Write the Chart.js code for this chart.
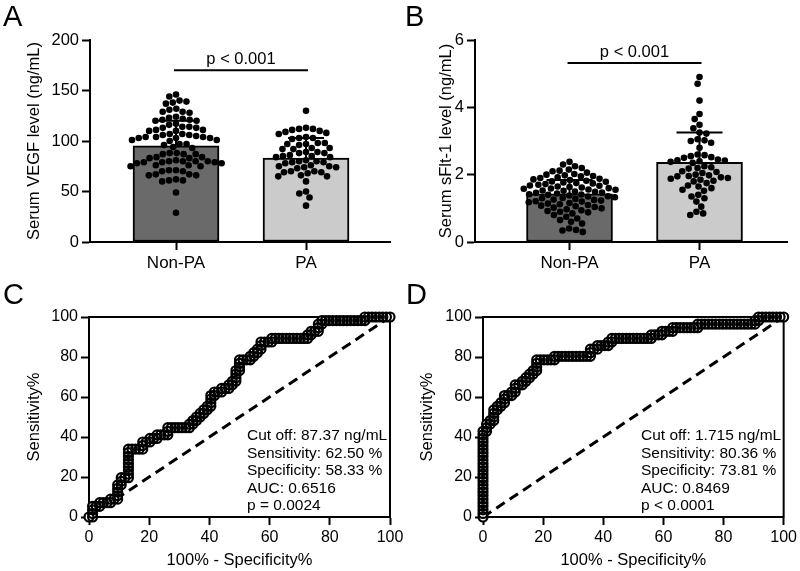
<!DOCTYPE html>
<html>
<head>
<meta charset="utf-8">
<script src="https://cdn.jsdelivr.net/npm/chart.js@4.4.1/dist/chart.umd.min.js"></script>
<style>
  body { margin: 0; background: #fff; width: 800px; height: 571px; position: relative; overflow: hidden;
         font-family: "Liberation Sans", Arial, Helvetica, sans-serif; }
  canvas { position: absolute; }
  .panel { position: absolute; font-size: 29px; line-height: 29px; color: #000; }
</style>
</head>
<body>
<canvas id="chartA" width="400" height="285" style="left:0;top:0"></canvas>
<canvas id="chartB" width="400" height="285" style="left:400px;top:0"></canvas>
<canvas id="chartC" width="420" height="286" style="left:0;top:285px"></canvas>
<canvas id="chartD" width="400" height="286" style="left:400px;top:285px"></canvas>
<div class="panel" style="left:3px;top:2px">A</div>
<div class="panel" style="left:405px;top:2px">B</div>
<div class="panel" style="left:3px;top:280px">C</div>
<div class="panel" style="left:406px;top:280px">D</div>

<script>
// ===== DATA =====
const groups = ["Non-PA", "PA"];

// serum VEGF (ng/mL), one value per subject
const vegfNonPA = [146,144,140,139,138,137,132,131,129,129,128,124,123,122,121,121,120,120,117,116,
  114,114,113,113,111,111,110,110,107,107,106,106,105,104,104,104,103,103,103,101,101,100,97,97,96,
  94,93,88,88,87,87,87,84,84,83,83,81,80,80,80,80,79,79,79,78,78,76,76,75,75,71,71,70,70,67,67,66,66,
  62,61,61,60,49,29];
const vegfPA = [130,113,112,112,111,110,109,108,107,104,103,103,102,98,98,97,97,96,93,93,92,92,89,89,
  88,88,86,85,85,84,84,81,80,80,79,79,78,76,75,75,74,74,73,70,70,69,69,68,66,65,65,60,50,48,44,36];
const vegfMean = [95.3, 83.0];
const vegfSD = [24.7, 20.0];

// serum sFlt-1 (ng/mL)
const sfltNonPA = [2.38,2.30,2.25,2.20,2.15,2.12,2.10,2.06,2.02,2.00,1.98,1.96,1.95,1.92,1.90,1.88,1.86,
  1.84,1.82,1.80,1.79,1.77,1.75,1.74,1.72,1.70,1.68,1.67,1.65,1.63,1.62,1.60,1.59,1.58,1.56,1.55,1.53,
  1.52,1.50,1.49,1.47,1.46,1.44,1.42,1.41,1.40,1.38,1.36,1.35,1.33,1.31,1.30,1.28,1.26,1.25,1.23,1.21,
  1.20,1.18,1.16,1.14,1.12,1.10,1.08,1.06,1.04,1.02,1.00,0.97,0.94,0.92,0.90,0.88,0.85,0.80,0.75,0.70,
  0.65,0.60,0.55,0.40,0.36,0.34,0.30];
const sfltPA = [4.90,4.70,4.20,3.80,3.65,3.48,3.38,3.25,3.22,3.05,3.02,3.00,2.95,2.80,2.60,2.58,2.55,
  2.52,2.50,2.45,2.43,2.42,2.40,2.38,2.35,2.25,2.22,2.20,2.18,2.10,2.08,2.05,2.00,1.98,1.96,1.95,1.92,
  1.90,1.88,1.85,1.82,1.80,1.75,1.68,1.65,1.60,1.55,1.52,1.40,1.35,1.30,1.20,1.05,0.90,0.85,0.80];
const sfltMean = [1.43, 2.37];
const sfltSD = [0.41, 0.88];

const sigText = "p < 0.001";
const sigLevelA = 170;
const sigLevelB = 5.32;

// ROC: one step per threshold, R = one more false positive, U = one more true positive
const nNonPA = 84, nPA = 56;
const rocStepsC = "R UUU RR U RRR U RR UUUU R U U RR UUUUUUUU RRRR UU RR U RR U RRR UU RRRRRR " +
  "URURURUR URUR UUU R U RR U RR U R U R UUU R UUU RRR URURUR UU RRR U RRRRRRRRRR UR U RR UU R U " +
  "RRRRRRRRRRRR U RRRRRRR";
const rocStepsD = "UUUUUUUUUUUUUUUUUUUUUUUU R UU R U R UUU R U R U R UU RR U R UU RR U R U R U R U R " +
  "UUU RRRRR U RR RRRRRRRR UU RR U RRR U R U RRRRRRRRRRR U RRR U RRR U RRRRRRR U RRRRRRRRRRRRRRRR " +
  "U R U RRRRRRR";
const diagonal = [{x: 0, y: 0}, {x: 100, y: 100}];
const rocTextC = ["Cut off: 87.37 ng/mL", "Sensitivity: 62.50 %", "Specificity: 58.33 %", "AUC: 0.6516", "p = 0.0024"];
const rocTextD = ["Cut off: 1.715 ng/mL", "Sensitivity: 80.36 %", "Specificity: 73.81 %", "AUC: 0.8469", "p < 0.0001"];

// ===== COMMON =====
Chart.defaults.font.family = '"Liberation Sans", Arial, Helvetica, sans-serif';
Chart.defaults.color = "#000";

function axisLines(tickLen) {
  return {
    grid: { drawOnChartArea: false, drawTicks: true, tickLength: tickLen, tickWidth: 2, tickColor: "#000", offset: false },
    border: { display: true, color: "#000", width: 2 }
  };
}

// simple beeswarm in pixel space, then back to data units
function swarm(chart, dsIndex, center, diam) {
  const xs = chart.scales.x, ys = chart.scales.y;
  const ds = chart.data.datasets[dsIndex];
  const cx = xs.getPixelForValue(center);
  const pts = ds.data.map(p => ({ v: p.y, py: ys.getPixelForValue(p.y) }));
  pts.sort((a, b) => a.py - b.py);
  const placed = [];
  pts.forEach(p => {
    const blocked = [];
    placed.forEach(q => {
      const dy = Math.abs(q.py - p.py);
      if (dy < diam) {
        const w = Math.sqrt(diam * diam - dy * dy);
        blocked.push([q.dx - w, q.dx + w]);
      }
    });
    const cands = [0];
    blocked.forEach(b => cands.push(b[0], b[1]));
    cands.sort((a, b) => Math.abs(a) - Math.abs(b));
    let dx = 0;
    for (const c of cands) {
      if (blocked.every(b => c <= b[0] + 1e-6 || c >= b[1] - 1e-6)) { dx = c; break; }
    }
    p.dx = dx;
    placed.push(p);
  });
  ds.data = placed.map(p => ({ x: xs.getValueForPixel(cx + p.dx), y: p.v }));
}

// ===== BAR + DOT PANELS =====
function createBarPanel(o) {
  const ctx = document.getElementById(o.id).getContext("2d");

  const extras = {
    id: "barExtras",
    afterDatasetsDraw(chart) {
      const { ctx, scales: { x, y } } = chart;
      ctx.save();
      ctx.strokeStyle = "#000";
      ctx.lineWidth = 2;
      o.mean.forEach((m, i) => {
        const cx = x.getPixelForValue(i);
        const y0 = y.getPixelForValue(m);
        const y1 = y.getPixelForValue(m + o.sd[i]);
        ctx.beginPath();
        ctx.moveTo(cx, y0); ctx.lineTo(cx, y1);
        ctx.moveTo(cx - o.cap, y1); ctx.lineTo(cx + o.cap, y1);
        ctx.stroke();
      });
      const ly = y.getPixelForValue(o.sig);
      const x0 = x.getPixelForValue(0) - 2, x1 = x.getPixelForValue(1) + 2;
      ctx.beginPath();
      ctx.moveTo(x0, ly); ctx.lineTo(x1, ly);
      ctx.stroke();
      ctx.fillStyle = "#000";
      ctx.font = '16.5px "Liberation Sans", Arial, sans-serif';
      ctx.textAlign = "center";
      ctx.textBaseline = "alphabetic";
      ctx.fillText(sigText, (x0 + x1) / 2, ly - 6);
      ctx.restore();
    }
  };

  const chart = new Chart(ctx, {
    type: "bar",
    data: {
      datasets: [
        {
          type: "bar",
          data: o.mean.map((m, i) => ({ x: i, y: m })),
          backgroundColor: ["#6a6a6a", "#cbcbcb"],
          borderColor: "#000",
          borderWidth: 2,
          borderSkipped: false,
          barThickness: 86,
          order: 3
        },
        {
          type: "scatter",
          data: o.dots[0].map(v => ({ x: 0, y: v })),
          pointRadius: 3.3,
          pointBackgroundColor: "#000",
          pointBorderWidth: 0,
          order: 1
        },
        {
          type: "scatter",
          data: o.dots[1].map(v => ({ x: 1, y: v })),
          pointRadius: 3.3,
          pointBackgroundColor: "#000",
          pointBorderWidth: 0,
          order: 1
        }
      ]
    },
    options: {
      responsive: false,
      animation: false,
      events: [],
      layout: { padding: { left: 0, top: 40, right: o.padRight, bottom: 0 } },
      plugins: { legend: { display: false }, tooltip: { enabled: false } },
      scales: {
        x: {
          type: "linear",
          offset: false,
          bounds: "data",
          min: o.xMin,
          max: o.xMax,
          afterBuildTicks: s => { s.ticks = [{ value: 0 }, { value: 1 }]; },
          afterFit: s => { s.height = 43; },
          ...axisLines(8),
          ticks: { color: "#000", font: { size: 17 }, padding: 3, maxRotation: 0,
                   callback: v => groups[v] }
        },
        y: {
          min: 0,
          max: o.yMax,
          afterFit: s => { s.width = o.axisW; },
          ...axisLines(8),
          ticks: { stepSize: o.step, color: "#000", font: { size: 16.5 }, padding: 3 },
          title: { display: true, text: o.title, color: "#000", font: { size: 16.5 },
                   padding: { top: o.titlePad, bottom: 0 } }
        }
      }
    },
    plugins: [extras]
  });

  swarm(chart, 1, 0, 7);
  swarm(chart, 2, 1, 7);
  chart.update("none");
  return chart;
}

// ===== ROC PANELS =====
function rocPoints(steps) {
  let fp = 0, tp = 0;
  const pts = [{ x: 0, y: 0 }];
  for (const c of steps) {
    if (c === "R") fp++;
    else if (c === "U") tp++;
    else continue;
    pts.push({ x: fp / nNonPA * 100, y: tp / nPA * 100 });
  }
  return pts;
}

function createRocPanel(o) {
  const ctx = document.getElementById(o.id).getContext("2d");
  const pts = rocPoints(o.steps);

  const frame = {
    id: "frame",
    beforeDatasetsDraw(chart) {
      const { ctx, chartArea: a } = chart;
      ctx.save();
      ctx.strokeStyle = "#000";
      ctx.lineWidth = 2;
      ctx.beginPath();
      ctx.moveTo(a.left - 1, a.top); ctx.lineTo(a.right, a.top); ctx.lineTo(a.right, a.bottom + 1);
      ctx.stroke();
      ctx.restore();
    },
    afterDraw(chart) {
      const { ctx, chartArea: a } = chart;
      ctx.save();
      ctx.fillStyle = "#000";
      ctx.font = '15.5px "Liberation Sans", Arial, sans-serif';
      ctx.textAlign = "left";
      ctx.textBaseline = "alphabetic";
      const n = o.text.length;
      o.text.forEach((t, i) => {
        ctx.fillText(t, a.left + 158, a.bottom - 7 - (n - 1 - i) * 17.5);
      });
      ctx.restore();
    }
  };

  return new Chart(ctx, {
    type: "scatter",
    data: {
      datasets: [
        // outlines of all markers, drawn last
        {
          data: pts,
          showLine: false,
          pointRadius: 4.5,
          pointBackgroundColor: "rgba(0,0,0,0)",
          pointBorderColor: "#000",
          pointBorderWidth: 2.2,
          clip: false,
          order: 1
        },
        // marker fills + connecting line
        {
          data: pts,
          showLine: true,
          borderColor: "#000",
          borderWidth: 1,
          pointRadius: 4.5,
          pointBackgroundColor: "#fff",
          pointBorderWidth: 0,
          clip: false,
          order: 2
        },
        {
          data: diagonal,
          showLine: true,
          borderColor: "#000",
          borderWidth: 3,
          borderDash: [10, 6],
          pointRadius: 0,
          order: 3
        }
      ]
    },
    options: {
      responsive: false,
      animation: false,
      events: [],
      layout: { padding: { left: 0, top: 32, right: o.padRight, bottom: 0 } },
      plugins: { legend: { display: false }, tooltip: { enabled: false } },
      scales: {
        x: {
          type: "linear",
          min: 0,
          max: 100,
          afterFit: s => { s.height = 54; },
          ...axisLines(8),
          ticks: { stepSize: 20, color: "#000", font: { size: 16 }, padding: 3, maxRotation: 0 },
          title: { display: true, text: "100% - Specificity%", color: "#000", font: { size: 16.5 },
                   padding: { top: 0, bottom: 1 } }
        },
        y: {
          min: 0,
          max: 100,
          afterFit: s => { s.width = o.axisW; },
          ...axisLines(8),
          ticks: { stepSize: 20, color: "#000", font: { size: 16 }, padding: 3 },
          title: { display: true, text: "Sensitivity%", color: "#000", font: { size: 16.5 },
                   padding: { top: o.titlePad, bottom: 0 } }
        }
      }
    },
    plugins: [frame]
  });
}

// ===== INIT =====
window.chartA = createBarPanel({
  id: "chartA", dots: [vegfNonPA, vegfPA], mean: vegfMean, sd: vegfSD,
  yMax: 200, step: 50, sig: sigLevelA, title: "Serum VEGF level (ng/mL)",
  axisW: 90, padRight: 10, titlePad: 25, xMin: -0.6615, xMax: 1.646, cap: 18
});
window.chartB = createBarPanel({
  id: "chartB", dots: [sfltNonPA, sfltPA], mean: sfltMean, sd: sfltSD,
  yMax: 6, step: 2, sig: sigLevelB, title: "Serum sFlt-1 level (ng/mL)",
  axisW: 75, padRight: 13, titlePad: 37, xMin: -0.727, xMax: 1.673, cap: 23
});
window.chartC = createRocPanel({ id: "chartC", steps: rocStepsC, text: rocTextC, axisW: 89, padRight: 30, titlePad: 25 });
window.chartD = createRocPanel({ id: "chartD", steps: rocStepsD, text: rocTextD, axisW: 83, padRight: 16, titlePad: 18 });
</script>
</body>
</html>
